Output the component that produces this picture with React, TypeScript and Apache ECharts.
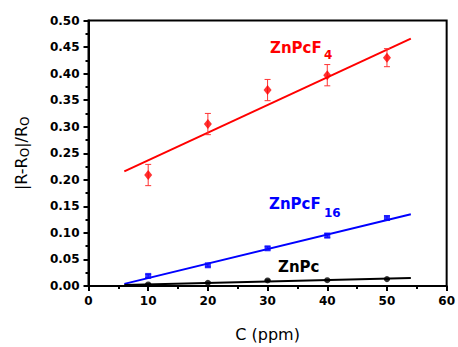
import React, { useEffect, useRef } from "react";
import * as echarts from "echarts";

const concentrations = [10, 20, 30, 40, 50];
const znPcF4 = [0.209, 0.305, 0.369, 0.397, 0.43];
const znPcF4Err = [0.02, 0.02, 0.02, 0.02, 0.017];
const znPcF16 = [0.019, 0.039, 0.071, 0.095, 0.128];
const znPcF16Err = [0.003, 0.003, 0.003, 0.004, 0.004];
const znPc = [0.003, 0.006, 0.0105, 0.011, 0.013];
const znPcErr = [0.001, 0.001, 0.001, 0.001, 0.001];
const fitX = [6, 54];
const fitF4 = [0.216, 0.466];
const fitF16 = [0.004, 0.135];
const fitPc = [0.002, 0.015];
const xTicks = [0, 10, 20, 30, 40, 50, 60];
const yTicks = [0, 0.05, 0.1, 0.15, 0.2, 0.25, 0.3, 0.35, 0.4, 0.45, 0.5];

const FONT = "'DejaVu Sans', Arial, sans-serif";

function errSeries(vals: number[], errs: number[], color: string, width: number) {
  return {
    type: "custom",
    z: 3,
    data: concentrations.map((c, i) => [c, vals[i] - errs[i], vals[i] + errs[i]]),
    renderItem: (params: any, api: any) => {
      const x = api.value(0);
      const lo = api.coord([x, api.value(1)]);
      const hi = api.coord([x, api.value(2)]);
      const hw = 3;
      const style = { stroke: color, lineWidth: width };
      return {
        type: "group",
        children: [
          { type: "line", shape: { x1: lo[0], y1: lo[1], x2: hi[0], y2: hi[1] }, style },
          { type: "line", shape: { x1: lo[0] - hw, y1: lo[1], x2: lo[0] + hw, y2: lo[1] }, style },
          { type: "line", shape: { x1: hi[0] - hw, y1: hi[1], x2: hi[0] + hw, y2: hi[1] }, style },
        ],
      };
    },
  };
}

function fitSeries(vals: number[], color: string) {
  return {
    type: "line",
    z: 2,
    data: fitX.map((x, i) => [x, vals[i]]),
    showSymbol: false,
    symbol: "none",
    lineStyle: { color, width: 2 },
  };
}

function pointSeries(vals: number[], color: string, symbol: string, size: any) {
  return {
    type: "scatter",
    z: 4,
    data: concentrations.map((c, i) => [c, vals[i]]),
    symbol,
    symbolSize: size,
    itemStyle: { color },
  };
}

function label(text: string, x: number, y: number, color: string, size: number) {
  return {
    type: "text",
    x,
    y,
    z: 10,
    style: {
      text,
      fontFamily: FONT,
      fontSize: size,
      fontWeight: "bold",
      fill: color,
      verticalAlign: "middle",
      align: "left",
    },
  };
}

export default function App() {
  const ref = useRef<HTMLDivElement>(null);
  useEffect(() => {
    if (!ref.current) return;
    document.body.style.margin = "0";
    document.body.style.overflow = "hidden";
    const chart = echarts.init(ref.current, undefined, { renderer: "svg" });
    chart.setOption({
      animation: false,
      backgroundColor: "#ffffff",
      grid: {
        left: 88.5,
        right: 8,
        top: 20.5,
        bottom: 58,
        show: true,
        borderColor: "#000",
        borderWidth: 2,
      },
      xAxis: {
        type: "value",
        min: xTicks[0],
        max: xTicks[xTicks.length - 1],
        interval: 10,
        name: "C (ppm)",
        nameLocation: "middle",
        nameGap: 40,
        nameTextStyle: { fontFamily: FONT, fontSize: 16, color: "#000" },
        axisLine: { show: true, lineStyle: { color: "#000", width: 2 } },
        axisTick: { show: true, length: 5, lineStyle: { color: "#000", width: 2 } },
        minorTick: { show: true, splitNumber: 2, length: 3, lineStyle: { color: "#000", width: 2 } },
        splitLine: { show: false },
        axisLabel: { fontFamily: FONT, fontSize: 12, fontWeight: "bold", color: "#000", margin: 9 },
      },
      yAxis: {
        type: "value",
        min: yTicks[0],
        max: yTicks[yTicks.length - 1],
        interval: 0.05,
        name: "{a||R-R}{s|O}{a||/R}{s|O}",
        nameLocation: "middle",
        nameRotate: 90,
        nameGap: 58,
        nameTextStyle: {
          fontFamily: FONT,
          fontSize: 16,
          color: "#000",
          rich: {
            a: { fontFamily: FONT, fontSize: 16, color: "#000" },
            s: { fontFamily: FONT, fontSize: 12, color: "#000", verticalAlign: "bottom", padding: [7, 0, 0, 0] },
          },
        },
        axisLine: { show: true, lineStyle: { color: "#000", width: 2 } },
        axisTick: { show: true, length: 5, lineStyle: { color: "#000", width: 2 } },
        minorTick: { show: true, splitNumber: 2, length: 3, lineStyle: { color: "#000", width: 2 } },
        splitLine: { show: false },
        axisLabel: {
          fontFamily: FONT,
          fontSize: 12,
          fontWeight: "bold",
          color: "#000",
          margin: 9,
          formatter: (v: number) => v.toFixed(2),
        },
      },
      graphic: [
        label("ZnPcF", 270, 48, "#ff0000", 15),
        label("4", 324, 55, "#ff0000", 12),
        label("ZnPcF", 269, 204, "#0000ff", 15),
        label("16", 324, 212.5, "#0000ff", 12),
        label("ZnPc", 278, 267, "#000000", 15),
      ],
      series: [
        fitSeries(fitF4, "#ff0000"),
        fitSeries(fitF16, "#0000ff"),
        fitSeries(fitPc, "#000000"),
        errSeries(znPcF4, znPcF4Err, "#ff3333", 1),
        errSeries(znPcF16, znPcF16Err, "#3333ff", 1),
        errSeries(znPc, znPcErr, "#000000", 1),
        pointSeries(znPcF4, "#ff0000", "diamond", [8, 10]),
        pointSeries(znPcF16, "#0000ff", "rect", 6),
        pointSeries(znPc, "#000000", "circle", 6),
      ],
    });
    return () => chart.dispose();
  }, []);
  return <div ref={ref} style={{ width: 458, height: 347, position: "fixed", left: 0, top: 0 }} />;
}
